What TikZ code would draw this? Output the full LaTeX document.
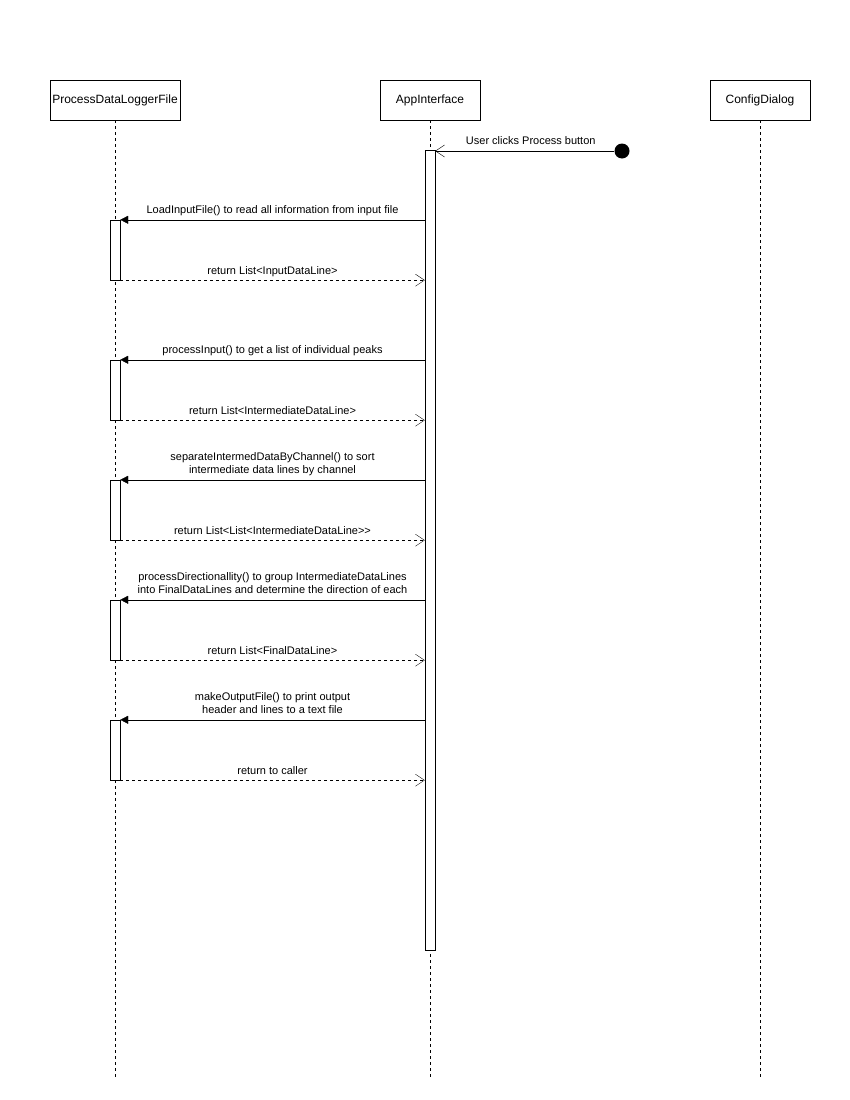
\documentclass[tikz,border=0pt]{standalone}
\usepackage{fontspec}
\setmainfont{Liberation Sans}
\usetikzlibrary{arrows.meta}

\begin{document}
\begin{tikzpicture}[x=1pt, y=-1pt,
  head/.style={draw, fill=white, minimum width=#1, minimum height=40pt, inner sep=0pt, font=\fontsize{12}{14}\selectfont},
  head/.default=100pt,
  act/.style={draw, fill=white, minimum width=10pt, inner sep=0pt},
  life/.style={dash pattern=on 3pt off 3pt},
  msg/.style={-{Triangle[length=8pt,width=8pt]}},
  ret/.style={dash pattern=on 3pt off 3pt, -{Straight Barb[length=9pt,width=12pt]}},
  lbl/.style={font=\fontsize{11}{13}\selectfont, align=center, inner sep=0pt, text depth=2pt, above=4pt},
  dot/.style={circle, fill=black, minimum size=15pt, inner sep=0pt}]
\useasboundingbox (0,0) rectangle (850,1100);
% lifelines
\node[head=130pt] (pdlf) at (115,100) {ProcessDataLoggerFile};
\node[head] (app) at (430,100) {AppInterface};
\node[head] (cfg) at (760,100) {ConfigDialog};
\coordinate (pdlfend) at (115,1078);
\coordinate (append) at (430,1078);
\coordinate (cfgend) at (760,1078);
\draw[life] (pdlf) -- (pdlfend);
\draw[life] (app) -- (append);
\draw[life] (cfg) -- (cfgend);
% activations
\node[act, minimum height=800pt] (appact) at (430,550) {};
\node[act, minimum height=60pt] (a1) at (115,250) {};
\node[act, minimum height=60pt] (a2) at (115,390) {};
\node[act, minimum height=60pt] (a3) at (115,510) {};
\node[act, minimum height=60pt] (a4) at (115,630) {};
\node[act, minimum height=60pt] (a5) at (115,750) {};
% start
\node[dot] (start) at (622,151) {};
\draw[ret, dash pattern=] (start) -- (appact.east |- start) node[lbl, midway, xshift=6pt] {User clicks Process button};
% messages
\draw[msg] (appact.west |- a1.north) -- (a1.north east) node[lbl, midway] {LoadInputFile() to read all information from input file};
\draw[ret] (a1.south east) -- (appact.west |- a1.south) node[lbl, midway] {return List<InputDataLine>};
\draw[msg] (appact.west |- a2.north) -- (a2.north east) node[lbl, midway] {processInput() to get a list of individual peaks};
\draw[ret] (a2.south east) -- (appact.west |- a2.south) node[lbl, midway] {return List<IntermediateDataLine>};
\draw[msg] (appact.west |- a3.north) -- (a3.north east) node[lbl, midway] {separateIntermedDataByChannel() to sort\\intermediate data lines by channel};
\draw[ret] (a3.south east) -- (appact.west |- a3.south) node[lbl, midway] {return List<List<IntermediateDataLine>{}>};
\draw[msg] (appact.west |- a4.north) -- (a4.north east) node[lbl, midway] {processDirectionallity() to group IntermediateDataLines\\into FinalDataLines and determine the direction of each};
\draw[ret] (a4.south east) -- (appact.west |- a4.south) node[lbl, midway] {return List<FinalDataLine>};
\draw[msg] (appact.west |- a5.north) -- (a5.north east) node[lbl, midway] {makeOutputFile() to print output\\header and lines to a text file};
\draw[ret] (a5.south east) -- (appact.west |- a5.south) node[lbl, midway] {return to caller};
\end{tikzpicture}
\end{document}
